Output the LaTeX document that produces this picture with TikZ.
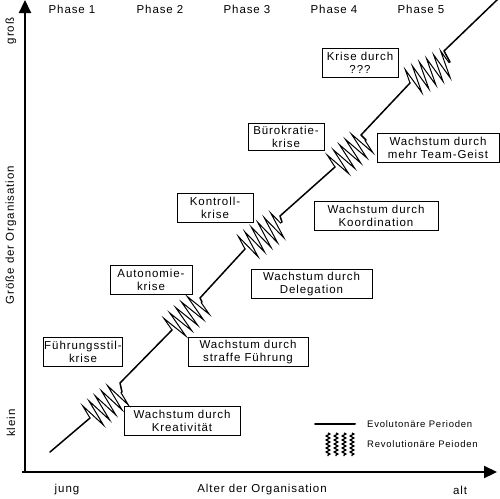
\documentclass[tikz,border=0pt]{standalone}
\usepackage{fontspec}
\setmainfont{Liberation Sans}[LetterSpace=8]
\usetikzlibrary{arrows.meta,positioning,calc,decorations.pathmorphing}

\begin{document}
\begin{tikzpicture}[
    x=1pt, y=-1pt,
    font=\fontsize{11.5}{13}\selectfont,
    box/.style={draw, line width=0.6pt, align=center, inner sep=1pt, minimum height=29pt},
    evo/.style={line width=1.5pt, line cap=round, line join=round},
    revo/.style={line width=1pt, line join=miter, decorate, decoration={zigzag, segment length=8pt, amplitude=14pt}},
    achse/.style={line width=2.2pt, -{Triangle[length=13pt, width=12pt]}},
    lab/.style={inner sep=0pt},
    leg/.style={font=\fontsize{9.5}{10}\selectfont, inner sep=0pt, anchor=west}
]
\useasboundingbox (0,0) rectangle (500,498);
% axes
\coordinate (ursprung) at (25,472);
\coordinate (oben) at (25,0);
\coordinate (links) at (22,472);
\coordinate (rechts) at (497,472);
\draw[achse] ($(ursprung)+(0,-1)$) -- (oben);
\draw[achse] (links) -- (rechts);
\foreach \i/\x in {1/72,2/160,3/247,4/334,5/421}
    \node[lab] (phase\i) at (\x,9) {Phase \i};
\node[lab, rotate=90] (gross) at (11,31) {groß};
\node[lab, rotate=90] (klein) at (11,423) {klein};
\node[lab, rotate=90] (groesse) at (11,235) {Größe der Organisation};
\node[lab] (jung) at (67,490) {jung};
\node[lab] (alter) at (262,490) {Alter der Organisation};
\node[lab] (alt) at (460,490) {alt};
% growth curve
\draw[evo] (50,452) -- (90,418);
\draw[evo] (122,392) -- (120,383) -- (172,330);
\draw[evo] (202,302) -- (200,298) -- (245,249);
\draw[evo] (282,222) -- (280,216) -- (335,167);
\draw[evo] (366,140) -- (361,135) -- (410,83);
\draw[evo] (450,62) -- (444,51) -- (498,-1);
\draw[revo] (90,418) -- (122,392);
\draw[revo] (172,330) -- (202,302);
\draw[revo] (245,249) -- (282,222);
\draw[revo] (335,167) -- (366,140);
\draw[revo] (410,83) -- (450,62);
% boxes
\node[box, minimum width=78pt] (fuehrung) at (83,351.5) {Führungsstil-\\krise};
\node[box, minimum width=116pt] (kreativ) at (182,421) {Wachstum durch\\Kreativität};
\node[box, minimum width=120pt] (straff) at (248,352) {Wachstum durch\\straffe Führung};
\node[box, minimum width=82pt] (autonomie) at (151,280) {Autonomie-\\krise};
\node[box, minimum width=76pt] (kontroll) at (215,208) {Kontroll-\\krise};
\node[box, minimum width=121pt] (delegation) at (311.5,284) {Wachstum durch\\Delegation};
\node[box, minimum width=124pt] (koordination) at (376,216) {Wachstum durch\\Koordination};
\node[box, minimum width=76pt, minimum height=27pt] (buero) at (286,136.5) {Bürokratie-\\krise};
\node[box, minimum width=122pt] (teamgeist) at (438,148) {Wachstum durch\\mehr Team-Geist};
\node[box, minimum width=76pt] (krise) at (360,63) {Krise durch\\???};
% legend
\coordinate (evoA) at (315,424);
\coordinate (evoB) at (355,424);
\draw[evo, line width=2pt] (evoA) -- (evoB);
\node[leg, right=12pt of evoB] (evotext) {Evolutonäre Perioden};
\foreach \x in {328,336,344,352}
    \draw[revo, line width=1.3pt, decoration={zigzag, segment length=4pt, amplitude=1.8pt}] (\x,433) -- (\x,456);
\coordinate (revoR) at (355,444);
\node[leg, right=12pt of revoR] (revotext) {Revolutionäre Peioden};
\end{tikzpicture}
\end{document}
